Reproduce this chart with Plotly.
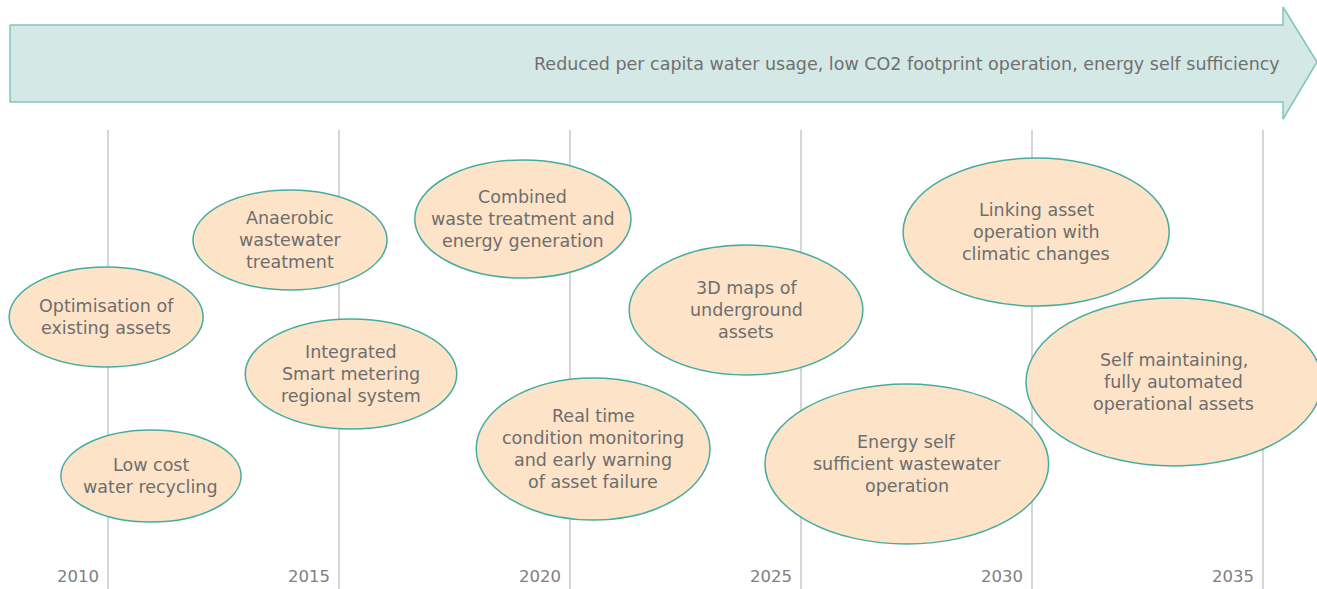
import plotly.graph_objects as go

# ---- data ----
tick_years = [2010, 2015, 2020, 2025, 2030, 2035]
tick_labels = ["2010", "2015", "2020", "2025", "2030", "2035"]

banner_text = "Reduced per capita water usage, low CO2 footprint operation, energy self sufficiency"

milestone_labels = [
    "Optimisation of<br>existing assets",
    "Low cost<br>water recycling",
    "Anaerobic<br>wastewater<br>treatment",
    "Integrated<br>Smart metering<br>regional system",
    "Combined<br>waste treatment and<br>energy generation",
    "Real time<br>condition monitoring<br>and early warning<br>of asset failure",
    "3D maps of<br>underground<br>assets",
    "Energy self<br>sufficient wastewater<br>operation",
    "Linking asset<br>operation with<br>climatic changes",
    "Self maintaining,<br>fully automated<br>operational assets",
]
milestone_years = [2009.96, 2010.93, 2013.94, 2015.26, 2018.98, 2020.50, 2023.81, 2027.29, 2030.09, 2033.07]

# ---- layout parameters (positions / sizes) ----
row_pos = [317, 476, 240, 374, 219, 449, 310, 464, 232, 382]        # vertical centre (px from top)
half_w = [2.10, 1.95, 2.10, 2.29, 2.34, 2.53, 2.53, 3.07, 2.88, 3.20]  # in years
half_h = [50, 46, 50, 55, 59, 71, 65, 80, 74, 84]
LINE_GAP = 22

PX_PER_YEAR = 46.2
X0 = 2010 - 108 / PX_PER_YEAR
X1 = 2010 + (1317 - 108) / PX_PER_YEAR
def yr(px):
    return 2010 + (px - 108) / PX_PER_YEAR

TEAL = "#45ad9f"
PEACH = "#fde3c7"
TXT = "#6e6e6e"
FONT = "DejaVu Sans"

fig = go.Figure()

# banner arrow
ax = [yr(10), yr(1283), yr(1283), yr(1317), yr(1283), yr(1283), yr(10), yr(10)]
ay = [25, 25, 7, 62, 119, 102, 102, 25]
fig.add_trace(go.Scatter(x=ax, y=ay, mode="lines", fill="toself",
                         fillcolor="#d4e8e5", line=dict(color="#80c6bb", width=1.5),
                         hoverinfo="skip", showlegend=False))
fig.add_annotation(x=yr(1282), y=64, text=banner_text, showarrow=False,
                   xanchor="right", yanchor="middle",
                   font=dict(family=FONT, size=17.5, color="#707070"))

shapes = []
for t in tick_years:
    shapes.append(dict(type="line", xref="x", yref="y", x0=t, x1=t, y0=130, y1=589,
                       line=dict(color="#c8c8c8", width=1.5), layer="below"))
for cx, cy, rw, rh in zip(milestone_years, row_pos, half_w, half_h):
    shapes.append(dict(type="circle", xref="x", yref="y",
                       x0=cx - rw, x1=cx + rw, y0=cy - rh, y1=cy + rh,
                       fillcolor=PEACH, line=dict(color=TEAL, width=1.5), layer="above"))

annotations = []
for t, lab in zip(tick_years, tick_labels):
    annotations.append(dict(x=t - 7 / PX_PER_YEAR, y=576, text=lab, showarrow=False,
                            xanchor="right", yanchor="middle",
                            font=dict(family=FONT, size=16.5, color="#808080")))
for cx, cy, lab in zip(milestone_years, row_pos, milestone_labels):
    lines = lab.split("<br>")
    n = len(lines)
    for i, ln in enumerate(lines):
        annotations.append(dict(x=cx, y=cy + (i - (n - 1) / 2) * LINE_GAP, text=ln,
                                showarrow=False, xanchor="center", yanchor="middle",
                                font=dict(family=FONT, size=17.5, color=TXT)))

fig.update_layout(
    width=1317, height=589,
    margin=dict(l=0, r=0, t=0, b=0),
    paper_bgcolor="white", plot_bgcolor="white",
    xaxis=dict(range=[X0, X1], visible=False, fixedrange=True),
    yaxis=dict(range=[589, 0], visible=False, fixedrange=True),
    shapes=shapes,
    showlegend=False,
)
for a in annotations:
    fig.add_annotation(**a)

fig.write_html("out.html", config=dict(displayModeBar=False),
               post_script="document.body.style.margin='0';document.body.style.padding='0';document.body.style.overflow='hidden';")
